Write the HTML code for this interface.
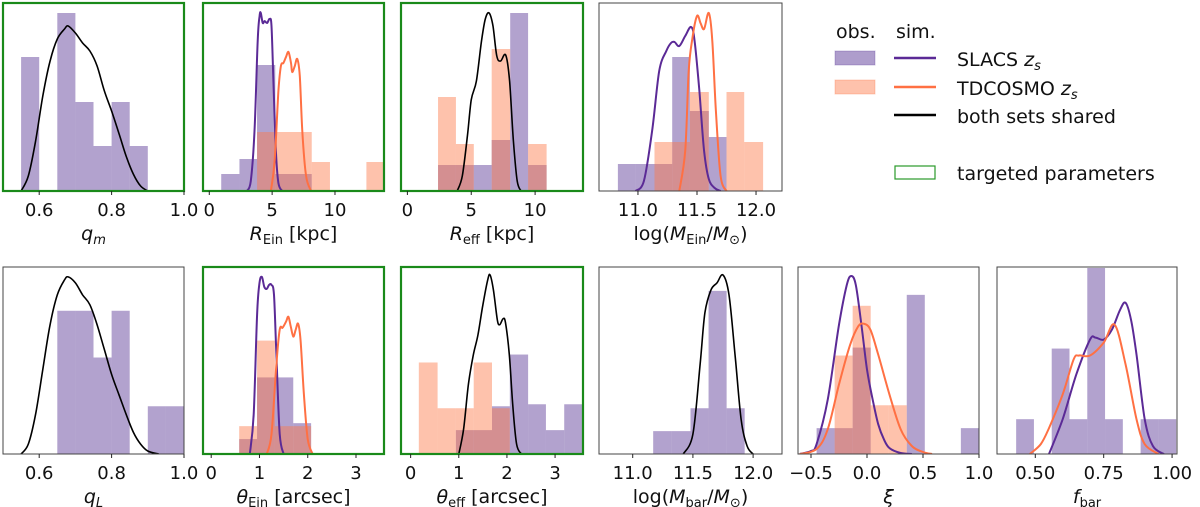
<!DOCTYPE html>
<html><head><meta charset="utf-8">
<style>
html,body{margin:0;padding:0;background:#fff;}
svg{display:block;font-family:"DejaVu Sans","Liberation Sans",sans-serif;}
</style></head>
<body>
<svg id="fig" width="1200" height="507" viewBox="0 0 1200 507">
<g id="legend" font-size="19" fill="#111">
  <text x="836" y="38">obs.</text>
  <text x="896" y="38">sim.</text>
  <rect x="835" y="51" width="40" height="14" fill="rgba(94,60,153,0.5)" stroke="rgba(94,60,153,0.3)"/>
  <line x1="894" y1="58" x2="936" y2="58" stroke="#5b2a96" stroke-width="2.5"/>
  <text x="957" y="66">SLACS <tspan font-style="italic">z</tspan><tspan font-style="italic" font-size="13" dy="4">s</tspan></text>
  <rect x="835" y="80" width="40" height="14" fill="rgba(252,120,70,0.45)" stroke="rgba(252,120,70,0.3)"/>
  <line x1="894" y1="87" x2="936" y2="87" stroke="#ff7043" stroke-width="2.5"/>
  <text x="957" y="95">TDCOSMO <tspan font-style="italic">z</tspan><tspan font-style="italic" font-size="13" dy="4">s</tspan></text>
  <line x1="894" y1="115" x2="936" y2="115" stroke="#000" stroke-width="2.5"/>
  <text x="957" y="123">both sets shared</text>
  <rect x="895" y="166" width="40" height="13" fill="none" stroke="#2a9a2a" stroke-width="1.2"/>
  <text x="957" y="180">targeted parameters</text>
</g>
</svg>
<script>
// ---- data (heights in relative density units, panel y-range 0..188) ----
const p1Edges=[0.55,0.6,0.65,0.7,0.75,0.8,0.85,0.9];
const p1Purple=[134,0,178,89,45,89,45];
const p1BlackX=[0.55,0.57,0.59,0.61,0.63,0.65,0.67,0.68,0.7,0.72,0.74,0.76,0.78,0.8,0.82,0.84,0.86,0.88,0.9];
const p1BlackY=[0,15,50,95,130,152,162,165,158,148,140,125,100,80,58,35,17,5,0];

const p2PurpleEdges=[0.95,2.4,3.8,5.25,6.7,8.15];
const p2Purple=[17,32,126,17,17];
const p2OrangeEdges=[3.8,5.25,6.7,8.15,9.6,11.05,12.5,13.95];
const p2Orange=[59,59,59,29,0,0,29];
const p2PurpleX=[3.0,3.3,3.6,3.85,4.0,4.1,4.25,4.4,4.6,4.8,4.95,5.1,5.3,5.5,5.8];
const p2PurpleY=[0,10,60,150,175,178,168,170,168,172,165,110,40,8,0];
const p2OrangeX=[4.9,5.2,5.5,5.7,5.9,6.1,6.3,6.5,6.6,6.8,7.0,7.2,7.4,7.7,8.1];
const p2OrangeY=[0,30,100,125,128,134,139,128,119,125,132,115,60,15,0];

const p3Edges=[2.4,3.8,5.2,6.6,8.05,9.45,10.9];
const p3Orange=[94,47,0,142,0,47];
const p3Purple=[26,26,26,51,178,26];
const p3BlackX=[3.9,4.3,4.7,5.0,5.4,5.8,6.1,6.4,6.7,7.0,7.3,7.7,8.0,8.3,8.6,8.9];
const p3BlackY=[0,15,55,91,110,150,172,178,165,135,130,136,110,50,10,0];

const p4PurpleEdges=[10.83,10.98,11.14,11.29,11.44,11.60,11.75];
const p4Purple=[27,27,27,134,80,54];
const p4OrangeEdges=[11.14,11.29,11.44,11.60,11.75,11.90,12.06];
const p4Orange=[49,49,99,0,99,49];
const p4PurpleX=[10.98,11.05,11.12,11.18,11.24,11.28,11.31,11.35,11.4,11.45,11.48,11.52,11.56,11.6,11.65,11.7];
const p4PurpleY=[0,10,60,120,140,148,149,145,155,164,150,100,40,12,3,0];
const p4OrangeX=[11.35,11.4,11.43,11.46,11.5,11.53,11.56,11.6,11.63,11.66,11.7,11.75];
const p4OrangeY=[0,40,120,152,175,168,162,178,150,80,15,0];

const b1Edges=[0.65,0.7,0.75,0.8,0.85,0.9,0.95,1.0];
const b1Purple=[144,144,97,144,0,48,48];
const b1BlackX=[0.55,0.57,0.59,0.61,0.63,0.65,0.67,0.68,0.7,0.72,0.74,0.76,0.78,0.8,0.82,0.84,0.86,0.88,0.9,0.93];
const b1BlackY=[0,10,40,85,130,160,175,178,172,160,150,130,105,80,60,40,22,10,3,0];

const b2Edges=[0.58,0.95,1.32,1.70,2.07];
const b2Purple=[15,77,77,31];
const b2Orange=[28,114,28,28];
const b2PurpleX=[0.8,0.88,0.95,1.0,1.05,1.1,1.15,1.2,1.25,1.3,1.35,1.42,1.5];
const b2PurpleY=[0,40,140,172,178,168,166,170,170,160,100,20,0];
const b2OrangeX=[1.15,1.25,1.35,1.42,1.48,1.55,1.6,1.65,1.7,1.75,1.8,1.85,1.92,2.0,2.1];
const b2OrangeY=[0,20,90,125,127,133,138,128,118,125,131,115,60,15,0];

const b3Edges=[0.17,0.56,0.94,1.31,1.69,2.06,2.44,2.81,3.19,3.58];
const b3Orange=[92,46,46,92,46,0,0,0,0];
const b3Purple=[0,0,24,24,48,100,50,24,50];
const b3BlackX=[1.0,1.1,1.2,1.3,1.4,1.5,1.6,1.65,1.72,1.8,1.85,1.92,1.97,2.05,2.12,2.2,2.3];
const b3BlackY=[0,25,70,99,120,150,175,180,165,135,130,136,132,100,50,10,0];

const b4Edges=[11.17,11.32,11.48,11.63,11.78,11.93];
const b4Purple=[23,23,46,164,46];
const b4BlackX=[11.42,11.5,11.56,11.6,11.65,11.7,11.75,11.8,11.85,11.9,11.95,12.0];
const b4BlackY=[0,20,90,142,165,172,180,160,100,35,8,0];

const b5Edges=[-0.45,-0.289,-0.128,0.033,0.194,0.355,0.516,0.677,0.838,0.999];
const b5Purple=[26,26,107,0,0,160,0,0,26];
const b5Orange=[0,99,149,49,49,0,0,0,0];
const b5PurpleX=[-0.6,-0.5,-0.45,-0.35,-0.25,-0.18,-0.14,-0.1,-0.05,0.0,0.05,0.1,0.15,0.2,0.3,0.4];
const b5PurpleY=[0,3,10,55,130,170,179,170,130,85,55,30,15,6,1,0];
const b5OrangeX=[-0.6,-0.45,-0.35,-0.25,-0.15,-0.08,-0.03,0.03,0.1,0.2,0.3,0.4,0.5,0.58];
const b5OrangeY=[0,5,25,70,110,128,131,125,100,60,25,8,2,0];

const b6Edges=[0.43,0.495,0.56,0.625,0.69,0.755,0.82,0.885,0.95,1.015];
const b6Purple=[35,0,106,35,187,35,0,35,35];
const b6PurpleX=[0.55,0.6,0.65,0.7,0.72,0.75,0.78,0.81,0.83,0.85,0.87,0.9,0.93,0.97];
const b6PurpleY=[0,35,80,115,117,115,125,145,152,135,100,35,8,0];
const b6OrangeX=[0.48,0.52,0.55,0.6,0.64,0.66,0.7,0.75,0.79,0.83,0.87,0.9,0.95];
const b6OrangeY=[0,10,26,60,95,99,99,112,130,90,35,10,0];

const ticksP1=[0.6,0.8,1.0], labelsP1=["0.6","0.8","1.0"];
const ticksP2=[0,5,10], labelsP2=["0","5","10"];
const ticksP4=[11.0,11.5,12.0], labelsP4=["11.0","11.5","12.0"];
const ticksB2=[0,1,2,3], labelsB2=["0","1","2","3"];
const ticksB5=[-0.5,0.0,0.5,1.0], labelsB5=["\u22120.5","0.0","0.5","1.0"];
const ticksB6=[0.5,0.75,1.0], labelsB6=["0.50","0.75","1.00"];

// ---- drawing ----
const NS="http://www.w3.org/2000/svg";
const svg=document.getElementById('fig');
const PURPLE_FILL="rgba(94,60,153,0.48)", ORANGE_FILL="rgba(252,120,70,0.45)";
const PURPLE_LINE="#5b2a96", ORANGE_LINE="#ff7043";
const YMAX=188;
function el(tag,attrs,parent){const e=document.createElementNS(NS,tag);for(const k in attrs)e.setAttribute(k,attrs[k]);(parent||svg).appendChild(e);return e;}
function smoothPath(pts){
  let d="M"+pts[0][0].toFixed(1)+","+pts[0][1].toFixed(1);
  for(let i=0;i<pts.length-1;i++){
    const p0=pts[Math.max(0,i-1)],p1=pts[i],p2=pts[i+1],p3=pts[Math.min(pts.length-1,i+2)];
    const c1=[p1[0]+(p2[0]-p0[0])/6,p1[1]+(p2[1]-p0[1])/6];
    const c2=[p2[0]-(p3[0]-p1[0])/6,p2[1]-(p3[1]-p1[1])/6];
    d+=" C"+c1[0].toFixed(1)+","+c1[1].toFixed(1)+" "+c2[0].toFixed(1)+","+c2[1].toFixed(1)+" "+p2[0].toFixed(1)+","+p2[1].toFixed(1);
  }
  return d;
}
function panel(cfg){
  const g=el('g',{});
  
  
  const clipId="clip-"+cfg.name;
  const cp=el('clipPath',{id:clipId},g);
  el('rect',{x:cfg.x0,y:cfg.y0,width:cfg.x1-cfg.x0,height:cfg.y1-cfg.y0},cp);
  const sx=v=>cfg.x0+(v-cfg.dom[0])/(cfg.dom[1]-cfg.dom[0])*(cfg.x1-cfg.x0);
  const sy=v=>cfg.y1-v/YMAX*(cfg.y1-cfg.y0);
  const inner=el('g',{'clip-path':'url(#'+clipId+')'},g);
  (cfg.hists||[]).forEach(h=>{
    for(let i=0;i<h.vals.length;i++){
      if(!h.vals[i])continue;
      const r=el('rect',{x:sx(h.edges[i]),y:sy(h.vals[i]),width:sx(h.edges[i+1])-sx(h.edges[i]),height:sy(0)-sy(h.vals[i]),fill:h.fill},inner);
      
      
    }
  });
  (cfg.curves||[]).forEach(c=>{
    const pts=c.xs.map((x,i)=>[sx(x),sy(c.ys[i])]);
    const p=el('path',{d:smoothPath(pts),fill:'none',stroke:c.color,'stroke-width':c.w||2,'stroke-linejoin':'round'},inner);
    
    
  });
  const frame=el('rect',{x:cfg.x0,y:cfg.y0,width:cfg.x1-cfg.x0,height:cfg.y1-cfg.y0,fill:'none',stroke:cfg.targeted?'#1a8a1a':'#444','stroke-width':cfg.targeted?2.2:1},g);
  
  
  cfg.ticks.forEach((t,i)=>{
    const x=sx(t);
    el('line',{x1:x,x2:x,y1:cfg.y1,y2:cfg.y1+4,stroke:'#222','stroke-width':1},g);
    const tx=el('text',{x:x,y:cfg.y1+25,'text-anchor':'middle','font-size':18,fill:'#111'},g);
    tx.textContent=cfg.labels[i];
    
    
  });
  const lab=el('text',{x:(cfg.x0+cfg.x1)/2,y:cfg.y1+49,'text-anchor':'middle','font-size':19,fill:'#111'},g);
  lab.innerHTML=cfg.xlabel;
  
  
}
const T0=3,T1=191,B0=267,B1=454;
const sub=(s)=>'<tspan font-size="13" dy="4">'+s+'</tspan>';
panel({name:'panel-q-m',x0:3,x1:184,y0:T0,y1:T1,dom:[0.5,1.0],targeted:true,ticks:ticksP1,labels:labelsP1,
  xlabel:'<tspan font-style="italic">q</tspan><tspan font-style="italic" font-size="13" dy="4">m</tspan>',
  hists:[{edges:p1Edges,vals:p1Purple,fill:PURPLE_FILL,label:'slacs-obs'}],
  curves:[{xs:p1BlackX,ys:p1BlackY,color:'#000',w:1.6,label:'shared'}]});
panel({name:'panel-r-ein',x0:203,x1:384,y0:T0,y1:T1,dom:[-0.5,13.9],targeted:true,ticks:ticksP2,labels:labelsP2,
  xlabel:'<tspan font-style="italic">R</tspan>'+sub('Ein')+'<tspan dy="-4"> [kpc]</tspan>',
  hists:[{edges:p2PurpleEdges,vals:p2Purple,fill:PURPLE_FILL,label:'slacs-obs'},{edges:p2OrangeEdges,vals:p2Orange,fill:ORANGE_FILL,label:'tdcosmo-obs'}],
  curves:[{xs:p2PurpleX,ys:p2PurpleY,color:PURPLE_LINE,label:'slacs-sim'},{xs:p2OrangeX,ys:p2OrangeY,color:ORANGE_LINE,label:'tdcosmo-sim'}]});
panel({name:'panel-r-eff',x0:401,x1:583,y0:T0,y1:T1,dom:[-0.5,13.75],targeted:true,ticks:ticksP2,labels:labelsP2,
  xlabel:'<tspan font-style="italic">R</tspan>'+sub('eff')+'<tspan dy="-4"> [kpc]</tspan>',
  hists:[{edges:p3Edges,vals:p3Purple,fill:PURPLE_FILL,label:'slacs-obs'},{edges:p3Edges,vals:p3Orange,fill:ORANGE_FILL,label:'tdcosmo-obs'}],
  curves:[{xs:p3BlackX,ys:p3BlackY,color:'#000',w:1.6,label:'shared'}]});
panel({name:'panel-log-m-ein',x0:599,x1:782,y0:T0,y1:T1,dom:[10.67,12.22],targeted:false,ticks:ticksP4,labels:labelsP4,
  xlabel:'log(<tspan font-style="italic">M</tspan>'+sub('Ein')+'<tspan dy="-4">/</tspan><tspan font-style="italic">M</tspan>'+sub('⊙')+'<tspan dy="-4">)</tspan>',
  hists:[{edges:p4PurpleEdges,vals:p4Purple,fill:PURPLE_FILL,label:'slacs-obs'},{edges:p4OrangeEdges,vals:p4Orange,fill:ORANGE_FILL,label:'tdcosmo-obs'}],
  curves:[{xs:p4PurpleX,ys:p4PurpleY,color:PURPLE_LINE,label:'slacs-sim'},{xs:p4OrangeX,ys:p4OrangeY,color:ORANGE_LINE,label:'tdcosmo-sim'}]});
panel({name:'panel-q-l',x0:3,x1:184,y0:B0,y1:B1,dom:[0.5,1.0],targeted:false,ticks:ticksP1,labels:labelsP1,
  xlabel:'<tspan font-style="italic">q</tspan><tspan font-style="italic" font-size="13" dy="4">L</tspan>',
  hists:[{edges:b1Edges,vals:b1Purple,fill:PURPLE_FILL,label:'slacs-obs'}],
  curves:[{xs:b1BlackX,ys:b1BlackY,color:'#000',w:1.6,label:'shared'}]});
panel({name:'panel-theta-ein',x0:203,x1:384,y0:B0,y1:B1,dom:[-0.17,3.58],targeted:true,ticks:ticksB2,labels:labelsB2,
  xlabel:'<tspan font-style="italic">θ</tspan>'+sub('Ein')+'<tspan dy="-4"> [arcsec]</tspan>',
  hists:[{edges:b2Edges,vals:b2Purple,fill:PURPLE_FILL,label:'slacs-obs'},{edges:b2Edges,vals:b2Orange,fill:ORANGE_FILL,label:'tdcosmo-obs'}],
  curves:[{xs:b2PurpleX,ys:b2PurpleY,color:PURPLE_LINE,label:'slacs-sim'},{xs:b2OrangeX,ys:b2OrangeY,color:ORANGE_LINE,label:'tdcosmo-sim'}]});
panel({name:'panel-theta-eff',x0:401,x1:583,y0:B0,y1:B1,dom:[-0.2,3.58],targeted:true,ticks:ticksB2,labels:labelsB2,
  xlabel:'<tspan font-style="italic">θ</tspan>'+sub('eff')+'<tspan dy="-4"> [arcsec]</tspan>',
  hists:[{edges:b3Edges,vals:b3Purple,fill:PURPLE_FILL,label:'slacs-obs'},{edges:b3Edges,vals:b3Orange,fill:ORANGE_FILL,label:'tdcosmo-obs'}],
  curves:[{xs:b3BlackX,ys:b3BlackY,color:'#000',w:1.6,label:'shared'}]});
panel({name:'panel-log-m-bar',x0:599,x1:782,y0:B0,y1:B1,dom:[10.72,12.24],targeted:false,ticks:ticksP4,labels:labelsP4,
  xlabel:'log(<tspan font-style="italic">M</tspan>'+sub('bar')+'<tspan dy="-4">/</tspan><tspan font-style="italic">M</tspan>'+sub('⊙')+'<tspan dy="-4">)</tspan>',
  hists:[{edges:b4Edges,vals:b4Purple,fill:PURPLE_FILL,label:'slacs-obs'}],
  curves:[{xs:b4BlackX,ys:b4BlackY,color:'#000',w:1.6,label:'shared'}]});
panel({name:'panel-xi',x0:798,x1:979,y0:B0,y1:B1,dom:[-0.616,1.0],targeted:false,ticks:ticksB5,labels:labelsB5,
  xlabel:'<tspan font-style="italic">ξ</tspan>',
  hists:[{edges:b5Edges,vals:b5Purple,fill:PURPLE_FILL,label:'slacs-obs'},{edges:b5Edges,vals:b5Orange,fill:ORANGE_FILL,label:'tdcosmo-obs'}],
  curves:[{xs:b5PurpleX,ys:b5PurpleY,color:PURPLE_LINE,label:'slacs-sim'},{xs:b5OrangeX,ys:b5OrangeY,color:ORANGE_LINE,label:'tdcosmo-sim'}]});
panel({name:'panel-f-bar',x0:997,x1:1177,y0:B0,y1:B1,dom:[0.36,1.018],targeted:false,ticks:ticksB6,labels:labelsB6,
  xlabel:'<tspan font-style="italic">f</tspan>'+sub('bar'),
  hists:[{edges:b6Edges,vals:b6Purple,fill:PURPLE_FILL,label:'slacs-obs'}],
  curves:[{xs:b6PurpleX,ys:b6PurpleY,color:PURPLE_LINE,label:'slacs-sim'},{xs:b6OrangeX,ys:b6OrangeY,color:ORANGE_LINE,label:'tdcosmo-sim'}]});
</script>
</body></html>
